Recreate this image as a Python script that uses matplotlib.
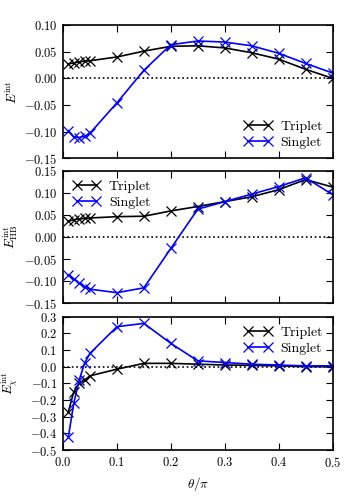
import matplotlib
matplotlib.use("Agg")
import matplotlib.pyplot as plt
import numpy as np

plt.rcParams['font.family'] = ['cmr10', 'DejaVu Serif']
plt.rcParams['mathtext.fontset'] = 'cm'
plt.rcParams['axes.formatter.use_mathtext'] = True
plt.rcParams['font.size'] = 8

theta = [0.01, 0.02, 0.03, 0.04, 0.05, 0.1, 0.15, 0.2, 0.25, 0.3, 0.35, 0.4, 0.45, 0.5]

e_trip = [0.027, 0.029, 0.031, 0.032, 0.033, 0.040, 0.051, 0.060, 0.061, 0.057, 0.048, 0.036, 0.017, 0.0]
e_sing = [-0.098, -0.110, -0.111, -0.109, -0.103, -0.046, 0.015, 0.063, 0.070, 0.068, 0.061, 0.047, 0.028, 0.010]

hb_trip = [0.036, 0.039, 0.041, 0.042, 0.043, 0.046, 0.047, 0.059, 0.069, 0.080, 0.091, 0.107, 0.130, 0.113]
hb_sing = [-0.086, -0.095, -0.104, -0.112, -0.118, -0.126, -0.115, -0.026, 0.063, 0.080, 0.097, 0.114, 0.134, 0.096]

chi_trip = [-0.27, -0.15, -0.10, -0.08, -0.055, -0.015, 0.02, 0.02, 0.015, 0.01, 0.008, 0.005, 0.0, 0.0]
chi_sing = [-0.42, -0.22, -0.08, 0.02, 0.08, 0.24, 0.26, 0.14, 0.035, 0.025, 0.015, 0.01, 0.005, 0.005]

panels = [
    (e_trip, e_sing, r'$E^{\rm int}$', (-0.15, 0.10), np.arange(-0.15, 0.101, 0.05), '%.2f', 'lower right'),
    (hb_trip, hb_sing, r'$E^{\rm int}_{\rm HB}$', (-0.15, 0.15), np.arange(-0.15, 0.151, 0.05), '%.2f', 'upper left'),
    (chi_trip, chi_sing, r'$E^{\rm int}_{\chi}$', (-0.5, 0.3), np.arange(-0.5, 0.301, 0.1), '%.1f', 'upper right'),
]

def lab(v, fmt):
    if abs(v) < 1e-9:
        v = 0.0
    return r'$%s$' % (fmt % v)

fig = plt.figure(figsize=(3.5, 5.0), dpi=100)
boxes = [(0.6834, 0.95), (0.3934, 0.6586), (0.10, 0.3666)]
left, right = 0.18, 0.95

for i, ((tr, si, ylab, ylim, yt, fmt, loc), (b, t)) in enumerate(zip(panels, boxes)):
    ax = fig.add_axes([left, b, right - left, t - b])
    ax.axhline(0, color='k', ls=':', lw=1.2)
    ax.plot(theta, tr, color='k', marker='x', ms=6.5, mew=0.9, lw=1.2, label='Triplet')
    ax.plot(theta, si, color='b', marker='x', ms=6.5, mew=0.9, lw=1.2, label='Singlet')
    ax.set_xlim(0, 0.5)
    ax.set_ylim(*ylim)
    ax.set_yticks(yt)
    ax.set_yticklabels([lab(v, fmt) for v in yt], fontsize=9)
    xt = np.arange(0, 0.501, 0.1)
    ax.set_xticks(xt)
    ax.tick_params(direction='in', top=True, right=True, length=5, width=0.8, pad=4)
    for s in ax.spines.values():
        s.set_linewidth(1.2)
    ax.set_ylabel(ylab, fontsize=9.5)
    ax.yaxis.set_label_coords(-0.16, 0.5)
    if i < 2:
        ax.set_xticklabels([])
    else:
        ax.set_xticklabels([lab(v, '%.1f') for v in xt], fontsize=9)
        ax.set_xlabel(r'$\theta/\pi$', fontsize=9.5)
    ax.legend(loc=loc, frameon=False, numpoints=2, fontsize=10, handlelength=2.0,
              borderaxespad=0.3, labelspacing=0.2, handletextpad=0.6)

fig.savefig('out.png', dpi=100)
